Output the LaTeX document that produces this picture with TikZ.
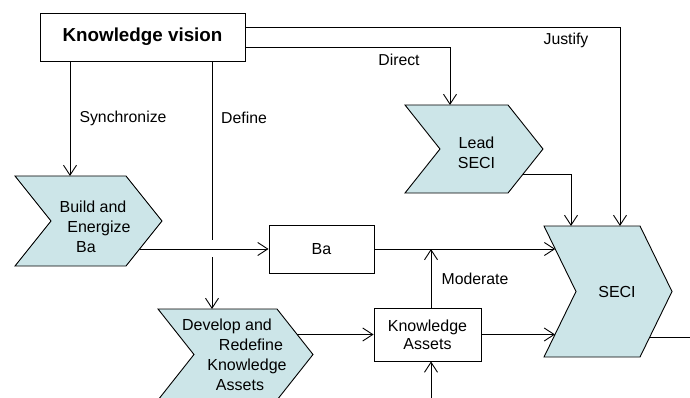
\documentclass[tikz,border=0pt]{standalone}
\usepackage{fontspec}
\setmainfont{Liberation Sans}
\usetikzlibrary{arrows.meta,calc}
\definecolor{chevfill}{RGB}{204,229,232}
\newcommand\chevpath[5]{%
  \draw[chev] (#1,#2) -- ({#3-#5},#2) -- (#3,{(#2+#4)/2}) -- ({#3-#5},#4) -- (#1,#4) -- ({#1+#5},{(#2+#4)/2}) -- cycle;}
\begin{document}
\begin{tikzpicture}[x=1pt,y=-1pt,
  line/.style={line width=0.9pt},
  arr/.style={line, -{Straight Barb[length=10pt,width=13pt,line width=0.9pt]}},
  chev/.style={fill=chevfill,draw=black,line width=0.9pt},
  box/.style={draw, line width=0.9pt, fill=white, inner sep=0pt, align=center, font=\fontsize{16}{18}\selectfont},
  txt/.style={font=\fontsize{16}{20}\selectfont, align=center, inner sep=0pt},
  lbl/.style={font=\fontsize{15.8}{18}\selectfont, inner sep=0pt}]
\useasboundingbox (0,0) rectangle (690,398);
\clip (0,0) rectangle (690,398);
% chevrons
\chevpath{15}{176}{162}{266}{36}
\chevpath{405}{105}{543}{193}{35}
\chevpath{544}{226}{672}{357}{32}
\chevpath{158}{309}{313}{400}{36}
% boxes
\node[box, minimum width=205pt, minimum height=48pt, font=\bfseries\fontsize{18.8}{22}\selectfont] (kv) at (142.5,37) {Knowledge vision};
\node[box, minimum width=105pt, minimum height=48pt] (ba) at (321.5,249) {Ba};
\node[box, minimum width=107pt, minimum height=53pt, font=\fontsize{16}{18}\selectfont] (ka) at (427.5,334.5) {Knowledge\\Assets};
% chevron texts
\node[txt] (bb) at (93,226.5) {Build and\\\kern12pt Energize\\Ba\kern14pt};
\node[txt] (ls) at (476.5,152.5) {Lead\\SECI};
\node[txt] (seci) at (617,292) {SECI};
\node[txt] (dev) at (245,354.5) {Develop and\kern36pt\\\kern12pt Redefine\\\kern4pt Knowledge\\Assets\kern10pt};
% edge coordinates
\coordinate (bbtop) at (70,176);
\coordinate (bbout) at (140.4,249);
\coordinate (lstop) at (450,105);
\coordinate (lsout) at (523.1,174);
\coordinate (secitopA) at (571,226);
\coordinate (secitopB) at (620,226);
\coordinate (seciinA) at (555.2,249);
\coordinate (seciinB) at (555,334.5);
\coordinate (seciout) at (649.8,337);
\coordinate (rightend) at (690,337);
\coordinate (devtop) at (212,309);
\coordinate (devout) at (297.2,334.5);
\coordinate (gapA) at (212,240);
\coordinate (gapB) at (212,257);
\coordinate (modjoin) at (431,249);
\coordinate (bottomend) at (431,400);
% connectors
\draw[arr] (kv.south -| bbtop) -- (bbtop);
\draw[line] (kv.south -| devtop) -- (gapA);
\draw[arr] (gapB) -- (devtop);
\draw[arr] ([yshift=10pt]kv.east) -| (secitopB);
\draw[arr] ([yshift=-10pt]kv.east) -| (lstop);
\draw[arr] (lsout) -| (secitopA);
\draw[arr] (bbout) -- (ba.west);
\draw[arr] (ba.east) -- (seciinA);
\draw[arr] (devout) -- (ka.west);
\draw[arr] (ka.east) -- (seciinB);
\draw[arr] (ka.north -| modjoin) -- (modjoin);
\draw[arr] (bottomend) -- (ka.south -| modjoin);
\draw[line] (seciout) -- (rightend);
% labels
\node[lbl] (l1) at (123,118) {Synchronize};
\node[lbl] (l2) at (244,118) {Define};
\node[lbl] (l3) at (399,60) {Direct};
\node[lbl] (l4) at (566,40) {Justify};
\node[lbl] (l5) at (475,279) {Moderate};
\end{tikzpicture}
\end{document}
